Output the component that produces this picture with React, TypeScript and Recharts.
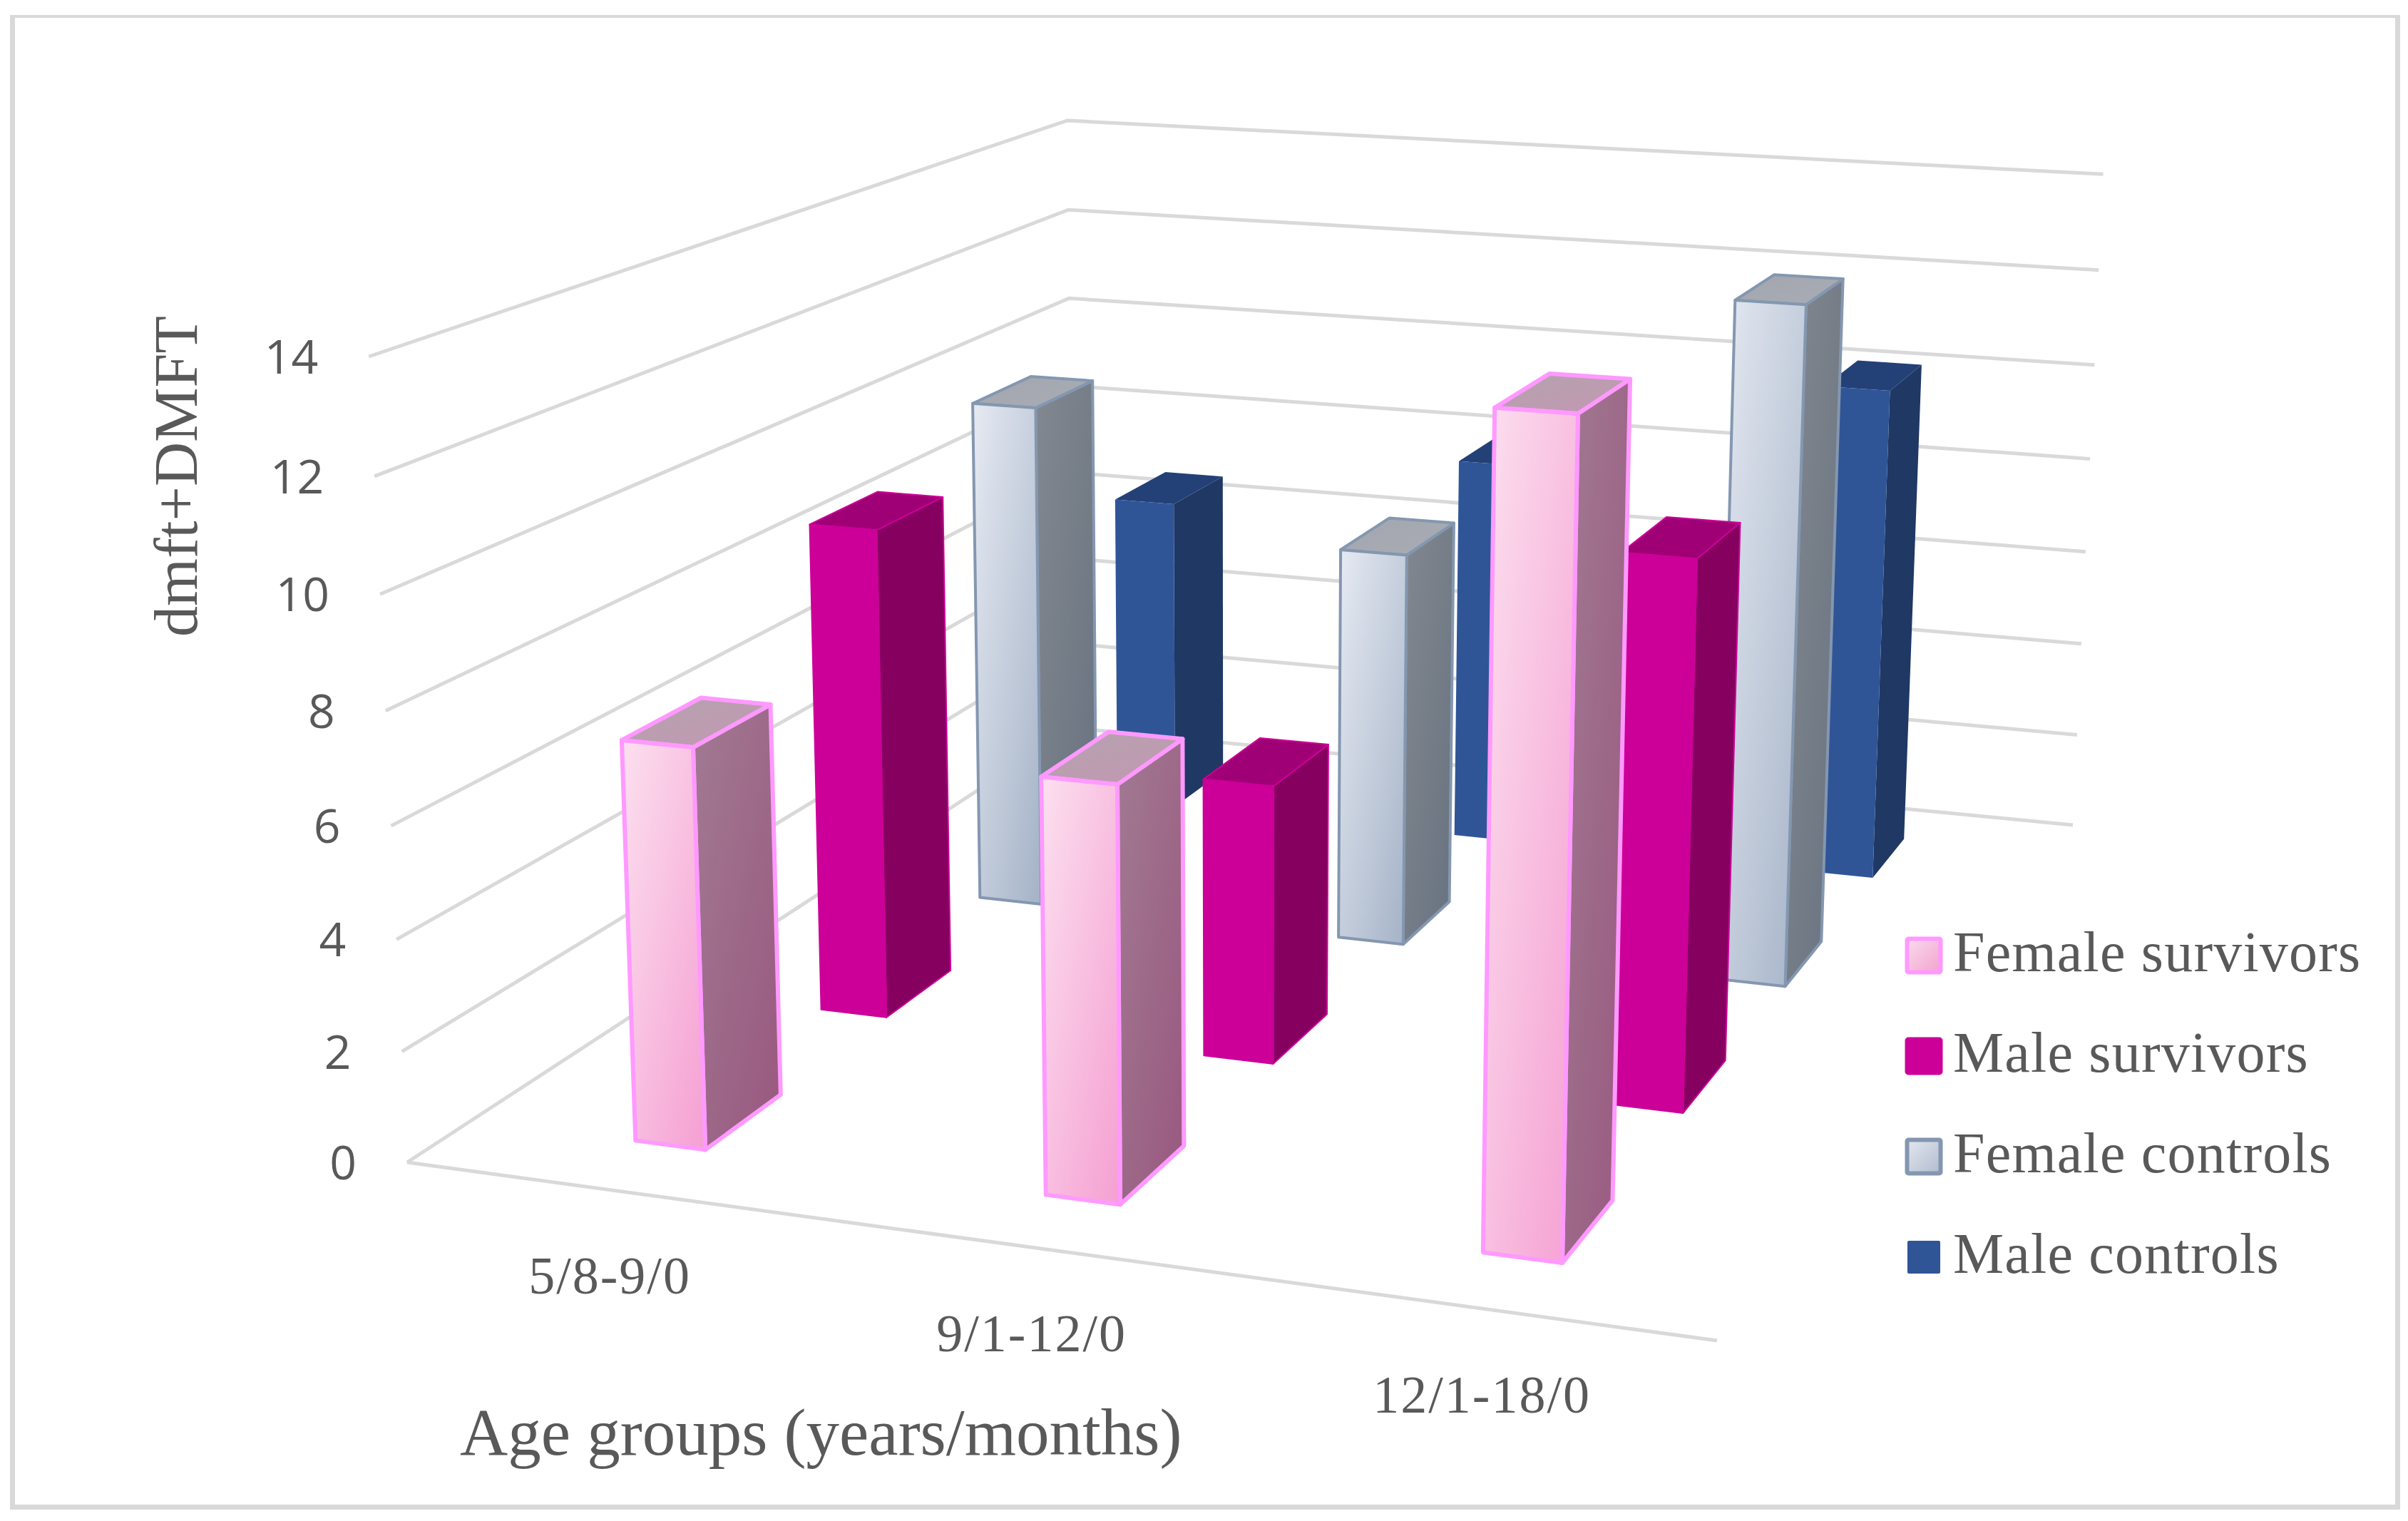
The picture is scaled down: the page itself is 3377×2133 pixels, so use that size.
import React from 'react';
import { BarChart, Bar, XAxis, YAxis, CartesianGrid, Legend } from 'recharts';

const WIDTH = 3377;
const HEIGHT = 2133;
const MARGIN = 100;
const PLOT_W = WIDTH - MARGIN * 2;
const PLOT_H = HEIGHT - MARGIN * 2;

// --- Data ---
const categories = ['5/8-9/0', '9/1-12/0', '12/1-18/0'];
const seriesNames = ['Female survivors', 'Male survivors', 'Female controls', 'Male controls'];
const femaleSurvivors = [7.2, 7.3, 14.0];
const maleSurvivors = [9.35, 5.25, 10.05];
const femaleControls = [10.2, 7.85, 13.2];
const maleControls = [6.7, 8.1, 10.2];
const yTicks = [0, 2, 4, 6, 8, 10, 12, 14];

const seriesValues = [femaleSurvivors, maleSurvivors, femaleControls, maleControls];
const tableData = categories.map((name, i) => {
  const row: any = { name };
  seriesNames.forEach((s, j) => { row[s] = seriesValues[j][i]; });
  return row;
});

// --- Look of each series ---
const SERIES_STYLE = [
  { front: 'fsFront', side: 'fsSide', top: 'fsTop', stroke: '#ff99ff', sw: 6, swatch: '#ff99ff' },
  { front: 'msFront', side: 'msSide', top: 'msTop', stroke: '#cc0099', sw: 2, swatch: '#cc0099' },
  { front: 'fcFront', side: 'fcSide', top: 'fcTop', stroke: '#8497b0', sw: 4, swatch: '#8497b0' },
  { front: 'mcFront', side: 'mcSide', top: 'mcTop', stroke: 'none', sw: 0, swatch: '#2f5597' },
];

// --- Projection of the (category, depth, value) box onto the page ---
const A = [571, 1630];
const B = [2408, 1880];
const C = [2907, 1157];
const D = [1505, 1021];
const VP = [1740, 26200];
const TOP_Y = 500;

const dx1 = B[0] - C[0], dx2 = D[0] - C[0], sx = A[0] - B[0] + C[0] - D[0];
const dy1 = B[1] - C[1], dy2 = D[1] - C[1], sy = A[1] - B[1] + C[1] - D[1];
const den = dx1 * dy2 - dx2 * dy1;
const G = (sx * dy2 - dx2 * sy) / den;
const H = (dx1 * sy - sx * dy1) / den;
const K = (TOP_Y - A[1]) / (VP[1] - TOP_Y);

const project = (u: number, d: number, h: number) => {
  const w = 1 + G * u + H * d + K * h;
  const x = A[0] + u * ((1 + G) * B[0] - A[0]) + d * ((1 + H) * D[0] - A[0]) + h * K * VP[0];
  const y = A[1] + u * ((1 + G) * B[1] - A[1]) + d * ((1 + H) * D[1] - A[1]) + h * K * VP[1];
  return [x / w, y / w];
};
const pts = (list: number[][]) => list.map((p) => `${p[0].toFixed(1)},${p[1].toFixed(1)}`).join(' ');

const DEPTH_START = 0.076;
const DEPTH_STEP = 0.25;
const DEPTH_SIZE = 0.099;

// --- 3D bar ---
const Box3D = ({ x, width, height, seriesIndex }: any) => {
  const st = SERIES_STYLE[seriesIndex];
  const u0 = (x - MARGIN) / PLOT_W;
  const u1 = (x + width - MARGIN) / PLOT_W;
  const d0 = DEPTH_START + seriesIndex * DEPTH_STEP;
  const d1 = d0 + DEPTH_SIZE;
  const h = height / PLOT_H;
  const common = { stroke: st.stroke, strokeWidth: st.sw, strokeLinejoin: 'round' as const };
  return (
    <g>
      <polygon points={pts([project(u1, d0, 0), project(u1, d1, 0), project(u1, d1, h), project(u1, d0, h)])} fill={`url(#${st.side})`} {...common} />
      <polygon points={pts([project(u0, d0, h), project(u1, d0, h), project(u1, d1, h), project(u0, d1, h)])} fill={`url(#${st.top})`} {...common} />
      <polygon points={pts([project(u0, d0, 0), project(u1, d0, 0), project(u1, d0, h), project(u0, d0, h)])} fill={`url(#${st.front})`} {...common} />
    </g>
  );
};

// --- Grid lines run along the left wall and the back wall ---
const WallLine = (props: any) => {
  const h = (HEIGHT - MARGIN - props.y1) / PLOT_H;
  const corner = project(0, 1, h);
  return (
    <g key={props.key}>
      <polyline
        points={pts([project(0, 0, h), corner, project(1, 1, h)])}
        fill="none"
        stroke="#d9d9d9"
        strokeWidth={5}
      />
      {h < 0.001 && (
        <polyline points={pts([project(0, 0, 0), project(1, 0, 0)])} fill="none" stroke="#d9d9d9" strokeWidth={5} />
      )}
    </g>
  );
};

const YTick = ({ y, payload }: any) => {
  const p = project(0, 0, (HEIGHT - MARGIN - y) / PLOT_H);
  return (
    <text x={p[0] - 71} y={p[1] + 24} textAnchor="end" fontFamily="'Open Sans'" fontSize={66} fill="#595959">
      {payload.value}
    </text>
  );
};

const XTick = ({ x, payload }: any) => {
  const p = project((x - MARGIN) / PLOT_W, 0, 0);
  return (
    <text x={p[0] + 2} y={p[1] + 146} textAnchor="middle" fontFamily="'Liberation Serif'" fontSize={74} letterSpacing={2} fill="#595959">
      {payload.value}
    </text>
  );
};

// --- Legend ---
const LegendBox = ({ payload }: any) => {
  const items = [...(payload || [])].sort((a: any, b: any) => seriesNames.indexOf(a.value) - seriesNames.indexOf(b.value));
  return (
    <svg width={740} height={560} style={{ display: 'block' }}>
      {items.map((item: any, i: number) => {
        const st = SERIES_STYLE[i];
        const cy = 50 + i * 141;
        const fill = i === 0 ? 'url(#fsSwatch)' : i === 2 ? 'url(#fcSwatch)' : st.swatch;
        const size = i === 3 ? 46 : 47;
        return (
          <g key={item.value}>
            <rect
              x={70 - size / 2}
              y={cy - size / 2}
              width={size}
              height={size}
              fill={fill}
              stroke={i === 3 ? 'none' : st.swatch}
              strokeWidth={6}
              rx={2}
            />
            <text x={111} y={cy + 22} fontFamily="'Liberation Serif'" fontSize={80} letterSpacing={1.2} fill="#595959">
              {item.value}
            </text>
          </g>
        );
      })}
    </svg>
  );
};

const Grad = ({ id, from, to }: any) => (
  <linearGradient id={id} x1="0" y1="0" x2="1" y2="1">
    <stop offset="0%" stopColor={from} />
    <stop offset="100%" stopColor={to} />
  </linearGradient>
);

export default function App() {
  return (
    <div style={{ position: 'absolute', left: 0, top: 0, width: WIDTH, height: HEIGHT, background: '#fff', overflow: 'hidden' }}>
      <div
        style={{
          position: 'absolute',
          left: 14,
          top: 21,
          right: 11,
          bottom: 16,
          borderStyle: 'solid',
          borderColor: '#d9d9d9',
          borderWidth: '4px 7px 7px 7px',
        }}
      />
      <div style={{ position: 'absolute', left: 0, top: 0 }}>
        <BarChart
          width={WIDTH}
          height={HEIGHT}
          data={tableData}
          margin={{ top: MARGIN, right: MARGIN, bottom: MARGIN - 1, left: MARGIN - 1 }}
          barSize={185}
          barGap={-185}
        >
          <defs>
            <Grad id="fsFront" from="#fce0ef" to="#f59fd2" />
            <Grad id="fsSide" from="#a17a92" to="#99587f" />
            <Grad id="fsTop" from="#b3a3ad" to="#c497b3" />
            <Grad id="fsSwatch" from="#f8dcec" to="#f4a2ce" />
            <Grad id="msFront" from="#cc0099" to="#cc0099" />
            <Grad id="msSide" from="#860060" to="#860060" />
            <Grad id="msTop" from="#a00075" to="#a00075" />
            <Grad id="fcFront" from="#e6eaf2" to="#a4b2c7" />
            <Grad id="fcSide" from="#838890" to="#67727f" />
            <Grad id="fcTop" from="#a3a6ae" to="#a8acb4" />
            <Grad id="fcSwatch" from="#e4e7ef" to="#b0bccf" />
            <Grad id="mcFront" from="#2f5597" to="#2f5597" />
            <Grad id="mcSide" from="#1f3864" to="#1f3864" />
            <Grad id="mcTop" from="#234177" to="#234177" />
          </defs>
          <CartesianGrid vertical={false} horizontal={WallLine as any} />
          <XAxis dataKey="name" height={1} axisLine={false} tickLine={false} interval={0} tick={<XTick />} />
          <YAxis
            width={1}
            domain={[0, 14]}
            ticks={yTicks}
            interval={0}
            axisLine={false}
            tickLine={false}
            tick={<YTick />}
          />
          {[3, 2, 1, 0].map((i) => (
            <Bar
              key={seriesNames[i]}
              dataKey={seriesNames[i]}
              name={seriesNames[i]}
              fill={SERIES_STYLE[i].swatch}
              isAnimationActive={false}
              shape={(props: any) => <Box3D {...props} seriesIndex={i} />}
            />
          ))}
          <Legend
            layout="horizontal"
            align="center"
            verticalAlign="middle"
            content={<LegendBox />}
            wrapperStyle={{ left: 2628, top: 1290, width: 740, height: 560 }}
          />
          <text x={645} y={2040} fontFamily="'Liberation Serif'" fontSize={93} fill="#595959">
            Age groups (years/months)
          </text>
          <text
            transform="translate(276 668) rotate(-90)"
            textAnchor="middle"
            fontFamily="'Liberation Serif'"
            fontSize={86}
            fill="#595959"
          >
            dmft+DMFT
          </text>
        </BarChart>
      </div>
    </div>
  );
}
